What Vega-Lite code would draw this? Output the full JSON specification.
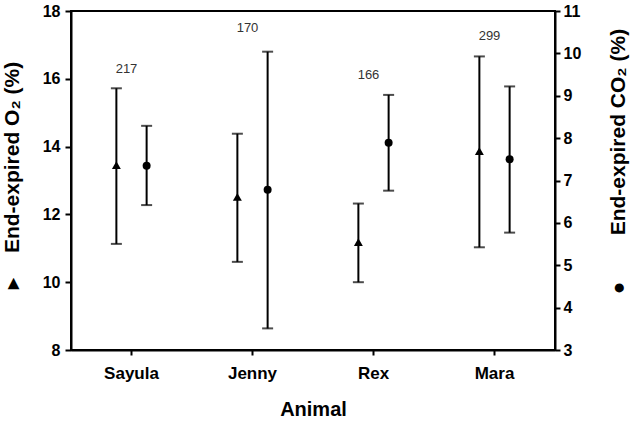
{
  "$schema": "https://vega.github.io/schema/vega-lite/v6.json",
  "width": 484,
  "height": 339,
  "autosize": {"type": "none"},
  "padding": {"left": 71, "top": 11, "right": 76, "bottom": 73},
  "background": "white",
  "config": {
    "font": "Liberation Sans",
    "view": {"stroke": "black", "strokeWidth": 2},
    "axis": {
      "domainColor": "black", "domainWidth": 2, "tickColor": "black", "tickWidth": 2,
      "labelColor": "black", "titleColor": "black",
      "labelFont": "Liberation Sans", "titleFont": "Liberation Sans",
      "labelFontWeight": "bold", "titleFontWeight": "bold", "grid": false
    }
  },
  "datasets": {
    "o2": [
      {"animal": "Sayula", "gas": "O2", "mean": 13.45, "lo": 11.13, "hi": 15.72},
      {"animal": "Jenny", "gas": "O2", "mean": 12.52, "lo": 10.6, "hi": 14.38},
      {"animal": "Rex", "gas": "O2", "mean": 11.18, "lo": 10.0, "hi": 12.32},
      {"animal": "Mara", "gas": "O2", "mean": 13.87, "lo": 11.03, "hi": 16.66}
    ],
    "co2": [
      {"animal": "Sayula", "gas": "CO2", "mean": 7.35, "lo": 6.42, "hi": 8.29},
      {"animal": "Jenny", "gas": "CO2", "mean": 6.78, "lo": 3.51, "hi": 10.04},
      {"animal": "Rex", "gas": "CO2", "mean": 7.89, "lo": 6.76, "hi": 9.02},
      {"animal": "Mara", "gas": "CO2", "mean": 7.5, "lo": 5.77, "hi": 9.22}
    ],
    "labels": [
      {"animal": "Sayula", "n": "217", "ypos": 16.29},
      {"animal": "Jenny", "n": "170", "ypos": 17.5},
      {"animal": "Rex", "n": "166", "ypos": 16.11},
      {"animal": "Mara", "n": "299", "ypos": 17.26}
    ]
  },
  "layer": [
    {
      "layer": [
        {
          "data": {"name": "o2"},
          "encoding": {
            "x": {"field": "animal", "type": "nominal", "sort": ["Sayula", "Jenny", "Rex", "Mara"],
                  "scale": {"type": "band", "paddingInner": 0, "paddingOuter": 0},
                  "axis": {"title": "Animal", "labelAngle": 0, "labelFontSize": 17, "titleFontSize": 20, "tickSize": 5, "labelPadding": 10, "titlePadding": 18}},
            "xOffset": {"field": "gas", "type": "nominal", "scale": {"domain": ["O2", "CO2"], "paddingInner": 0, "paddingOuter": 1.63}}
          },
          "layer": [
            {"mark": {"type": "rule", "strokeWidth": 2, "color": "black"},
             "encoding": {
               "y": {"field": "lo", "type": "quantitative", "scale": {"domain": [8, 18]},
                     "axis": {"orient": "left", "values": [8, 10, 12, 14, 16, 18], "title": "▸\u2003\u2009End-expired O₂ (%)",
                              "titleFontSize": 21, "labelFontSize": 16, "tickSize": 6, "labelPadding": 5,
                              "titleAngle": 270, "titleX": -59, "titleY": 164, "titleAlign": "center", "titleBaseline": "middle"}},
               "y2": {"field": "hi"}}},
            {"mark": {"type": "tick", "size": 11, "thickness": 2, "color": "black"},
             "encoding": {"y": {"field": "lo", "type": "quantitative"}}},
            {"mark": {"type": "tick", "size": 11, "thickness": 2, "color": "black"},
             "encoding": {"y": {"field": "hi", "type": "quantitative"}}},
            {"mark": {"type": "point", "shape": "triangle-up", "filled": true, "size": 80, "color": "black", "opacity": 1},
             "encoding": {"y": {"field": "mean", "type": "quantitative"}}}
          ]
        },
        {
          "data": {"name": "labels"},
          "mark": {"type": "text", "font": "Liberation Sans", "fontSize": 13, "color": "#333333", "dx": -5},
          "encoding": {
            "x": {"field": "animal", "type": "nominal", "sort": ["Sayula", "Jenny", "Rex", "Mara"],
                  "scale": {"type": "band", "paddingInner": 0, "paddingOuter": 0},
                  "axis": {"title": "Animal", "labelAngle": 0, "labelFontSize": 17, "titleFontSize": 20, "tickSize": 5, "labelPadding": 10, "titlePadding": 18}},
            "y": {"field": "ypos", "type": "quantitative"},
            "text": {"field": "n"}
          }
        }
      ]
    },
    {
      "data": {"name": "co2"},
      "encoding": {
        "x": {"field": "animal", "type": "nominal", "sort": ["Sayula", "Jenny", "Rex", "Mara"],
              "scale": {"type": "band", "paddingInner": 0, "paddingOuter": 0},
              "axis": {"title": "Animal", "labelAngle": 0, "labelFontSize": 17, "titleFontSize": 20, "tickSize": 5, "labelPadding": 10, "titlePadding": 18}},
        "xOffset": {"field": "gas", "type": "nominal", "scale": {"domain": ["O2", "CO2"], "paddingInner": 0, "paddingOuter": 1.63}}
      },
      "layer": [
        {"mark": {"type": "rule", "strokeWidth": 2, "color": "black"},
         "encoding": {
           "y": {"field": "lo", "type": "quantitative", "scale": {"domain": [3, 11]},
                 "axis": {"orient": "right", "values": [3, 4, 5, 6, 7, 8, 9, 10, 11], "title": "●\u2003\u2003\u2009End-expired CO₂ (%)",
                          "titleFontSize": 21, "labelFontSize": 16, "tickSize": 5, "labelPadding": 3,
                          "titleAngle": 270, "titleX": 63, "titleY": 150, "titleAlign": "center", "titleBaseline": "middle"}},
           "y2": {"field": "hi"}}},
        {"mark": {"type": "tick", "size": 11, "thickness": 2, "color": "black"},
         "encoding": {"y": {"field": "lo", "type": "quantitative"}}},
        {"mark": {"type": "tick", "size": 11, "thickness": 2, "color": "black"},
         "encoding": {"y": {"field": "hi", "type": "quantitative"}}},
        {"mark": {"type": "point", "shape": "circle", "filled": true, "size": 64, "color": "black", "opacity": 1},
         "encoding": {"y": {"field": "mean", "type": "quantitative"}}}
      ]
    }
  ],
  "resolve": {"scale": {"y": "independent"}}
}
